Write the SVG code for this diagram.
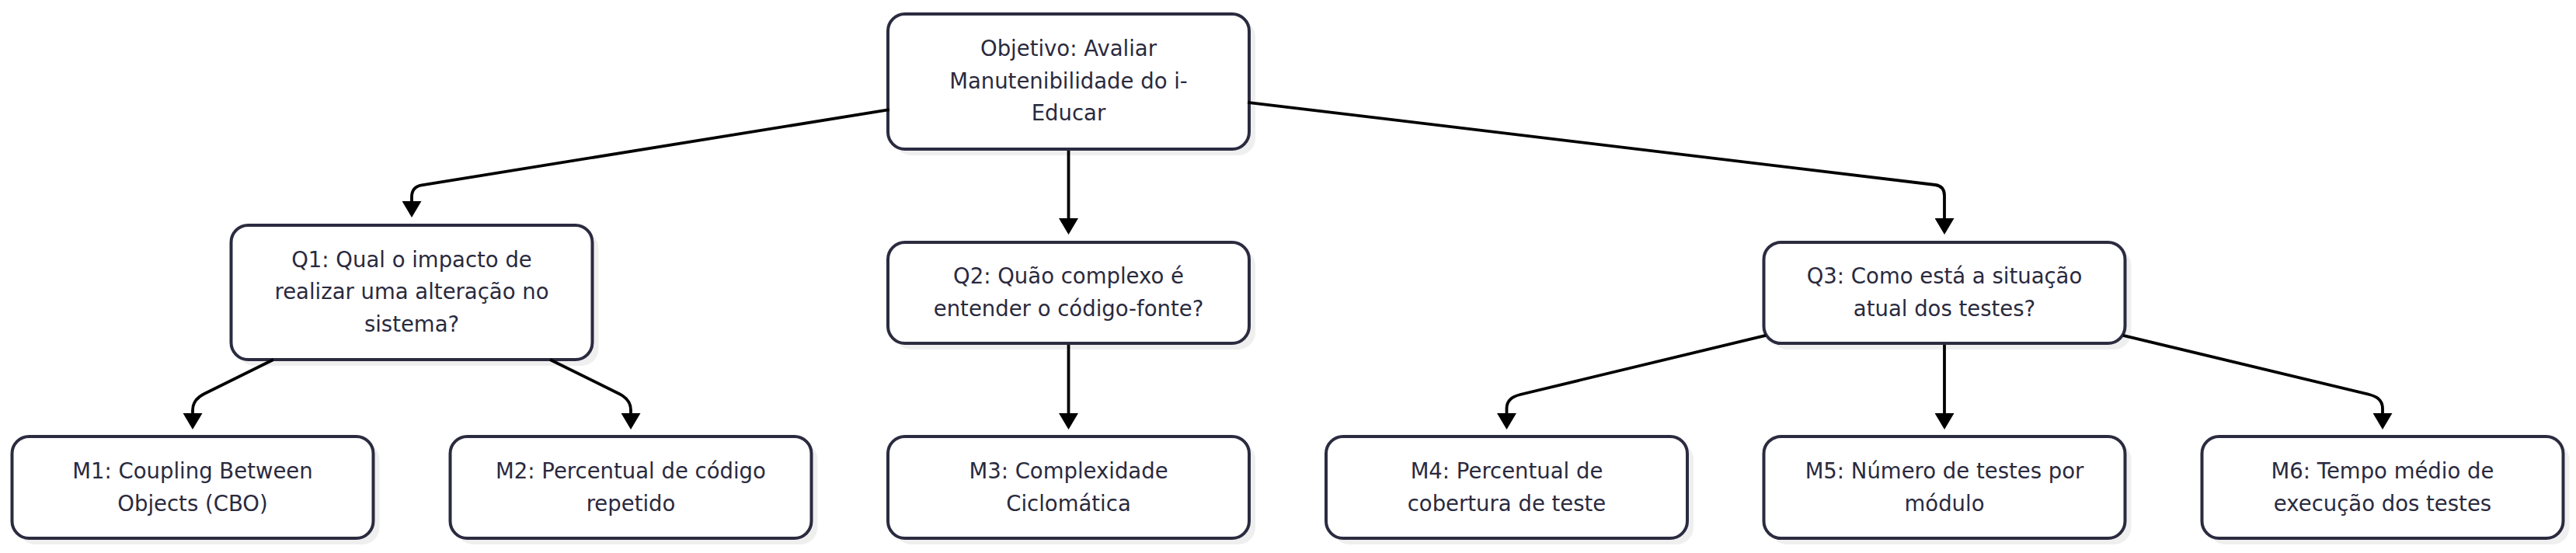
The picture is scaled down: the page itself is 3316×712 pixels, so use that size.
<svg xmlns="http://www.w3.org/2000/svg" width="3316" height="712" viewBox="0 0 3316 712">
  <style>
    .shadow { fill: #efeff0; }
    .box { fill: #ffffff; stroke: #2b2b40; stroke-width: 4; }
    .label { font-family: "DejaVu Sans", "Liberation Sans", sans-serif; font-size: 27.5px; fill: #2a2a3e; text-anchor: middle; }
    .edge { fill: none; stroke: #000000; stroke-width: 3.8; stroke-linejoin: round; }
  </style>
  <defs>
    <marker id="arrow" markerUnits="userSpaceOnUse" markerWidth="21" markerHeight="25" viewBox="0 0 21 25" refX="15" refY="12.5" orient="auto">
      <path d="M0,0 L21,12.5 L0,25 z" fill="#000000"/>
    </marker>
  </defs>
  <rect width="3316" height="712" fill="#ffffff"/>

  <g id="objetivo">
    <rect class="shadow" x="1151" y="26" width="465" height="174" rx="22"/>
    <rect class="box" x="1143" y="18" width="465" height="174" rx="22"/>
    <text class="label" x="1375.5" y="72">Objetivo: Avaliar</text>
    <text class="label" x="1375.5" y="113.5">Manutenibilidade do i-</text>
    <text class="label" x="1375.5" y="155">Educar</text>
  </g>

  <g id="q1">
    <rect class="shadow" x="305.5" y="298" width="465" height="173" rx="22"/>
    <rect class="box" x="297.5" y="290" width="465" height="173" rx="22"/>
    <text class="label" x="530" y="343.5">Q1: Qual o impacto de</text>
    <text class="label" x="530" y="385">realizar uma alteração no</text>
    <text class="label" x="530" y="426.5">sistema?</text>
  </g>

  <g id="q2">
    <rect class="shadow" x="1151" y="320" width="465" height="130" rx="22"/>
    <rect class="box" x="1143" y="312" width="465" height="130" rx="22"/>
    <text class="label" x="1375.5" y="365">Q2: Quão complexo é</text>
    <text class="label" x="1375.5" y="406.5">entender o código-fonte?</text>
  </g>

  <g id="q3">
    <rect class="shadow" x="2278.5" y="320" width="465" height="130" rx="22"/>
    <rect class="box" x="2270.5" y="312" width="465" height="130" rx="22"/>
    <text class="label" x="2503" y="365">Q3: Como está a situação</text>
    <text class="label" x="2503" y="406.5">atual dos testes?</text>
  </g>

  <g id="m1">
    <rect class="shadow" x="23.5" y="570" width="465" height="131" rx="22"/>
    <rect class="box" x="15.5" y="562" width="465" height="131" rx="22"/>
    <text class="label" x="248" y="616">M1: Coupling Between</text>
    <text class="label" x="248" y="657.5">Objects (CBO)</text>
  </g>

  <g id="m2">
    <rect class="shadow" x="587.5" y="570" width="465" height="131" rx="22"/>
    <rect class="box" x="579.5" y="562" width="465" height="131" rx="22"/>
    <text class="label" x="812" y="616">M2: Percentual de código</text>
    <text class="label" x="812" y="657.5">repetido</text>
  </g>

  <g id="m3">
    <rect class="shadow" x="1151" y="570" width="465" height="131" rx="22"/>
    <rect class="box" x="1143" y="562" width="465" height="131" rx="22"/>
    <text class="label" x="1375.5" y="616">M3: Complexidade</text>
    <text class="label" x="1375.5" y="657.5">Ciclomática</text>
  </g>

  <g id="m4">
    <rect class="shadow" x="1715" y="570" width="465" height="131" rx="22"/>
    <rect class="box" x="1707" y="562" width="465" height="131" rx="22"/>
    <text class="label" x="1939.5" y="616">M4: Percentual de</text>
    <text class="label" x="1939.5" y="657.5">cobertura de teste</text>
  </g>

  <g id="m5">
    <rect class="shadow" x="2278.5" y="570" width="465" height="131" rx="22"/>
    <rect class="box" x="2270.5" y="562" width="465" height="131" rx="22"/>
    <text class="label" x="2503" y="616">M5: Número de testes por</text>
    <text class="label" x="2503" y="657.5">módulo</text>
  </g>

  <g id="m6">
    <rect class="shadow" x="2842.5" y="570" width="465" height="131" rx="22"/>
    <rect class="box" x="2834.5" y="562" width="465" height="131" rx="22"/>
    <text class="label" x="3067" y="616">M6: Tempo médio de</text>
    <text class="label" x="3067" y="657.5">execução dos testes</text>
  </g>

  <g id="connectors">
    <path class="edge" marker-end="url(#arrow)" d="M1145,141.2 L543,238.3 Q530,240.4 530,253.5 L530,274"/>
    <path class="edge" marker-end="url(#arrow)" d="M1375.5,194 L1375.5,296"/>
    <path class="edge" marker-end="url(#arrow)" d="M1606,131.8 L2491,238 Q2503,239.5 2503,252 L2503,296"/>
    <path class="edge" marker-end="url(#arrow)" d="M352,463 L263,507 Q248,514.4 248,528 L248,547"/>
    <path class="edge" marker-end="url(#arrow)" d="M708,463 L797,507 Q812,514.4 812,528 L812,547"/>
    <path class="edge" marker-end="url(#arrow)" d="M1375.5,444 L1375.5,547"/>
    <path class="edge" marker-end="url(#arrow)" d="M2273,431.8 L1957,508 Q1939.5,512.2 1939.5,526 L1939.5,547"/>
    <path class="edge" marker-end="url(#arrow)" d="M2503,444 L2503,547"/>
    <path class="edge" marker-end="url(#arrow)" d="M2733,431.8 L3050,508 Q3067,512.2 3067,526 L3067,547"/>
  </g>
</svg>
